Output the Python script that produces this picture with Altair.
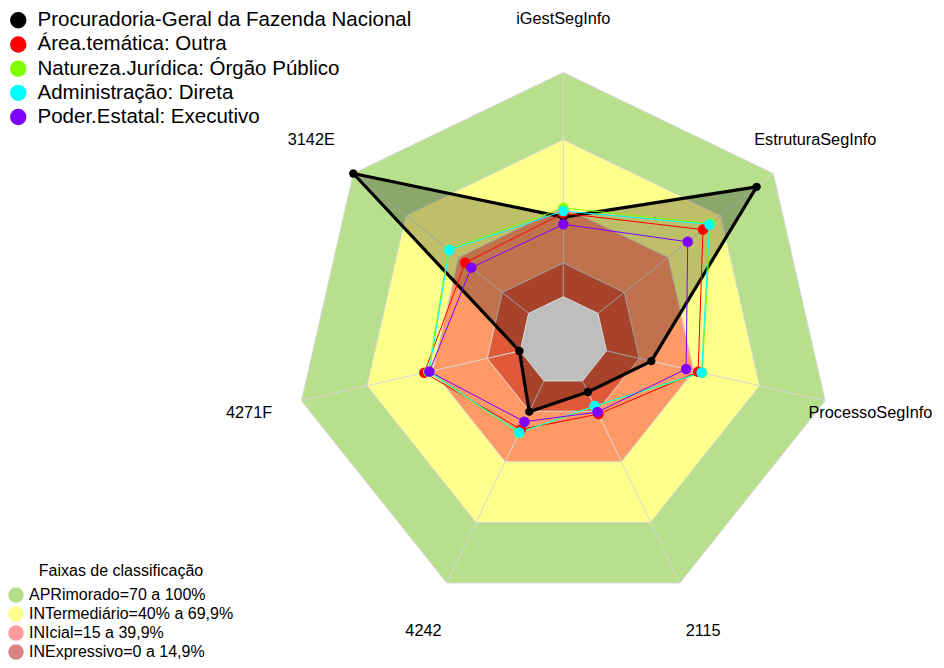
import math
import altair as alt
import pandas as pd

# ---------------- data ----------------
axes = ["iGestSegInfo", "EstruturaSegInfo", "ProcessoSegInfo", "2115", "4242", "4271F", "3142E"]
series = [
    "Procuradoria-Geral da Fazenda Nacional",
    "Área.temática: Outra",
    "Natureza.Jurídica: Órgão Público",
    "Administração: Direta",
    "Poder.Estatal: Executivo",
]
series_colors = ["#000000", "#ff0000", "#7fff00", "#00ffff", "#7f00ff"]
pgfn = [35.5, 90.5, 20.5, 5.5, 15.2, 0.3, 100.0]
outra = [37.2, 59.9, 41.9, 16.4, 24.0, 43.8, 36.2]
orgao = [39.6, 64.2, 43.8, 12.6, 25.8, 42.0, 45.6]
direta = [38.2, 63.6, 43.5, 12.4, 25.5, 41.6, 45.3]
executivo = [32.3, 51.2, 36.4, 15.4, 20.2, 41.5, 32.7]
series_values = [pgfn, outra, orgao, direta, executivo]

band_names = [
    "APRimorado=70 a 100%",
    "INTermediário=40% a 69,9%",
    "INIcial=15 a 39,9%",
    "INExpressivo=0 a 14,9%",
]
band_limits = [100, 70, 40, 15]
band_colors = ["#b8e08c", "#ffff8c", "#ff9966", "#e05a3a"]
legend_colors = ["#b3de8a", "#ffff90", "#ff9b9b", "#d98383"]
center_color = "#bebebe"

# ---------------- geometry helpers ----------------
R0 = 0.165  # radius of the grey centre (value 0)
N = len(axes)


def radius(p):
    return R0 + (1 - R0) * p / 100.0


def ang(i):
    return math.radians(90 - i * 360.0 / N)


def polygon(values, closed=True):
    rows = []
    idx = list(range(N)) + ([0] if closed else [])
    for k, i in enumerate(idx):
        r = radius(values[i]) if isinstance(values, list) else radius(values)
        rows.append({"k": k, "x": r * math.cos(ang(i)), "y": r * math.sin(ang(i)), "axis": axes[i]})
    return pd.DataFrame(rows)


W, H = 928, 652
PX = 268.6
CX, CY = 555.3, 333.0
xs = alt.Scale(domain=[-CX / PX, (W - CX) / PX], nice=False, zero=False)
ys = alt.Scale(domain=[-(H - CY) / PX, CY / PX], nice=False, zero=False)
X = lambda f="x": alt.X(f"{f}:Q", scale=xs, axis=None)
Y = lambda f="y": alt.Y(f"{f}:Q", scale=ys, axis=None)

layers = []

# bands
for name, lim, col in zip(band_names, band_limits, band_colors):
    d = polygon(lim)
    layers.append(
        alt.Chart(d).mark_line(fill=col, stroke="#d8d8d8", strokeWidth=1)
        .encode(x=X(), y=Y(), order="k:Q")
    )

# spokes
spk = pd.DataFrame([
    {"x": R0 * math.cos(ang(i)), "y": R0 * math.sin(ang(i)),
     "x2": math.cos(ang(i)), "y2": math.sin(ang(i))} for i in range(N)
])
layers.append(
    alt.Chart(spk).mark_rule(color="#d8d8d8", strokeWidth=1)
    .encode(x=X(), y=Y(), x2="x2:Q", y2="y2:Q")
)

# translucent fill of the highlighted organisation
layers.append(
    alt.Chart(polygon(pgfn)).mark_line(fill="#000000", fillOpacity=0.25, strokeOpacity=0)
    .encode(x=X(), y=Y(), order="k:Q")
)

# grey centre
layers.append(
    alt.Chart(polygon(0)).mark_line(fill=center_color, stroke="#d8d8d8", strokeWidth=1)
    .encode(x=X(), y=Y(), order="k:Q")
)

# series lines
for s, vals, col in zip(series, series_values, series_colors):
    lw = 3.2 if col == "#000000" else 1
    layers.append(
        alt.Chart(polygon(vals)).mark_line(color=col, strokeWidth=lw, strokeJoin="round")
        .encode(x=X(), y=Y(), order="k:Q")
    )

# series points
prow = []
for si, (s, vals) in enumerate(zip(series, series_values)):
    for i in range(N):
        r = radius(vals[i])
        prow.append({"serie": s, "sidx": si, "x": r * math.cos(ang(i)), "y": r * math.sin(ang(i)),
                     "sz": 70 if si == 0 else 110})
pts = pd.DataFrame(prow)
layers.append(
    alt.Chart(pts).mark_point(filled=True, opacity=1, strokeWidth=0)
    .encode(
        x=X(), y=Y(),
        color=alt.Color("serie:N", scale=alt.Scale(domain=series, range=series_colors),
                        legend=alt.Legend(title=None, orient="none", legendX=0, legendY=2,
                                          symbolType="circle", symbolSize=270, symbolStrokeWidth=0,
                                          labelFontSize=20.5, labelFont="Liberation Sans",
                                          labelColor="#000000", labelOffset=9, rowPadding=3.2,
                                          padding=0, labelLimit=500)),
        size=alt.Size("sz:Q", scale=None),
        order=alt.Order("sidx:Q"),
    )
)

# band legend (legend-only layer)
bl = pd.DataFrame({"band": band_names, "x": [0.0] * 4, "y": [0.0] * 4})
layers.append(
    alt.Chart(bl).mark_point(filled=True, opacity=0, size=1)
    .encode(
        x=X(), y=Y(),
        fill=alt.Fill("band:N", scale=alt.Scale(domain=band_names, range=legend_colors),
                      legend=alt.Legend(title="Faixas de classificação", orient="none",
                                        legendX=0, legendY=555, symbolType="circle",
                                        symbolSize=240, symbolOpacity=1, symbolStrokeWidth=0,
                                        labelFontSize=16, labelFont="Liberation Sans",
                                        labelColor="#000000", labelOffset=5, rowPadding=3,
                                        titleFontSize=16, titleFont="Liberation Sans",
                                        titleFontWeight="normal", titleColor="#000000",
                                        titleAnchor="middle", titlePadding=8, padding=0,
                                        labelLimit=400)),
    )
)

# axis labels (kept inside the drawing area)
LFS = 16.3
lrows = []
for i, a in enumerate(axes):
    lx = 1.2 * math.cos(ang(i))
    half = 0.5 * 0.52 * LFS * len(a) / PX
    xmax = (W - CX) / PX - half - 2 / PX
    lrows.append({"axis": a, "x": min(lx, xmax), "y": 1.2 * math.sin(ang(i))})
lab = pd.DataFrame(lrows)
layers.append(
    alt.Chart(lab).mark_text(fontSize=LFS, font="Liberation Sans", color="#000000",
                             align="center", baseline="middle")
    .encode(x=X(), y=Y(), text="axis:N")
)

chart = alt.layer(*layers).properties(
    width=W, height=H, padding=0, autosize="none"
).configure_view(stroke=None)

chart.save("out.html", embed_options={"renderer": "svg", "actions": False})
